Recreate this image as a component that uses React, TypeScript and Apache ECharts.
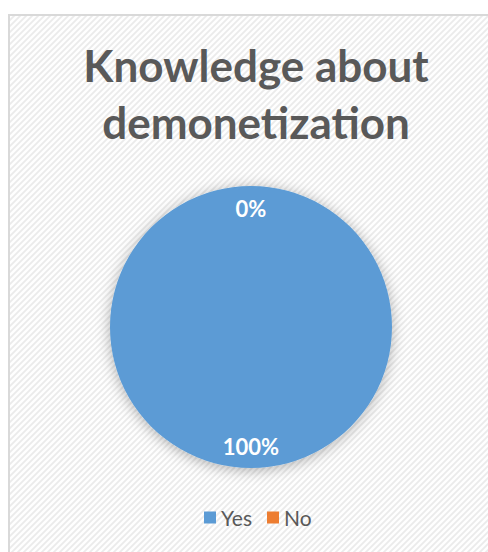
import React, { useEffect, useRef } from "react";
import * as echarts from "echarts";

const titleText = "Knowledge about\ndemonetization";
const categories = ["Yes", "No"];
const values = [100, 0];
const percentLabels = ["100%", "0%"];
const colors = ["#5B9BD5", "#ED7D31"];

const stripeSvg =
  "data:image/svg+xml;utf8," +
  encodeURIComponent(
    '<svg xmlns="http://www.w3.org/2000/svg" width="6" height="6"><rect width="6" height="6" fill="#ffffff"/><path d="M-1,1 L1,-1 M0,6 L6,0 M5,7 L7,5" stroke="#ebebeb" stroke-width="1.8"/></svg>'
  );

export default function App() {
  const ref = useRef<HTMLDivElement>(null);
  useEffect(() => {
    if (!ref.current) return;
    const chart = echarts.init(ref.current, null, { renderer: "svg" });
    const img = new Image();
    img.src = stripeSvg;
    const data = categories.map((c, i) => ({
      name: c,
      value: values[i],
      itemStyle: { color: colors[i] },
    }));
    chart.setOption({
      animation: false,
      backgroundColor: "#ffffff",
      graphic: [
        {
          type: "rect",
          z: -10,
          silent: true,
          shape: { x: 9, y: 15, width: 500, height: 560 },
          style: { fill: { image: img, repeat: "repeat" } as any, stroke: "#d9d9d9", lineWidth: 2 },
        },
      ],
      title: {
        text: titleText,
        left: 251,
        textAlign: "center",
        top: 31,
        textStyle: {
          fontFamily: "Lato",
          fontWeight: "bold",
          fontSize: 44,
          lineHeight: 57,
          color: "#595959",
        },
      },
      legend: {
        bottom: 19,
        left: 199,
        itemWidth: 12,
        itemHeight: 12,
        itemGap: 15,
        icon: "rect",
        textStyle: { fontFamily: "Lato", fontSize: 21, color: "#595959" },
        data: categories,
      },
      series: [
        {
          type: "pie",
          center: [251, 327],
          radius: [0, 141],
          startAngle: 90,
          label: { show: false },
          labelLine: { show: false },
          itemStyle: { shadowBlur: 14, shadowColor: "rgba(0,0,0,0.3)", shadowOffsetY: 2 },
          data,
        },
        {
          type: "pie",
          center: [251, 327],
          radius: [92, 140],
          startAngle: 90,
          silent: true,
          legendHoverLink: false,
          itemStyle: { color: "transparent" },
          label: {
            show: true,
            position: "inside",
            formatter: (p: any) => percentLabels[p.dataIndex],
            color: "#ffffff",
            fontFamily: "Lato",
            fontWeight: "bold",
            fontSize: 22,
          },
          labelLine: { show: false },
          data: categories.map((c, i) => ({ name: c + " ", value: values[i] })),
        },
      ],
    });
    return () => chart.dispose();
  }, []);
  return (
    <div
      ref={ref}
      style={{ position: "fixed", left: 0, top: 0, width: 488, height: 552 }}
    />
  );
}
